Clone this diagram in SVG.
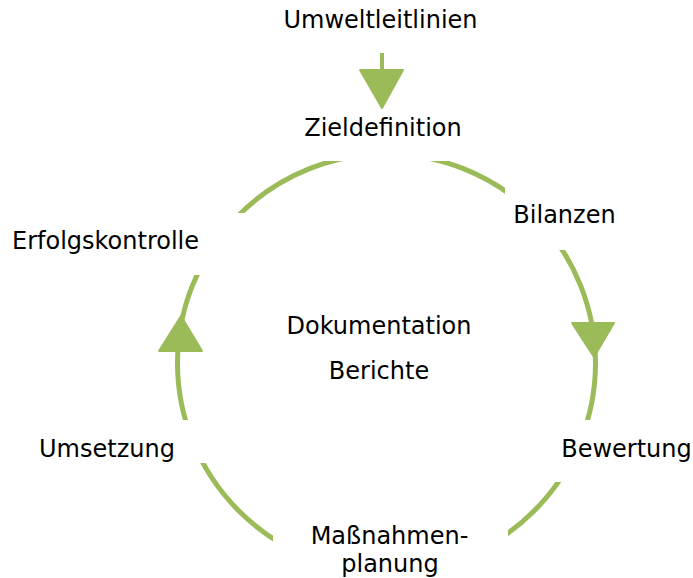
<svg xmlns="http://www.w3.org/2000/svg" width="693" height="578" viewBox="0 0 693 578">
<style>
.ln{fill:none;stroke:#9BBB59;stroke-width:5}
.ah{fill:#9BBB59;stroke:#9BBB59;stroke-width:2;stroke-linejoin:round}
.bx{fill:#FFFFFF;stroke:none}
.t{font-family:"DejaVu Sans",Verdana,sans-serif;font-size:24px;fill:#000000;text-anchor:middle}
</style>
<rect width="693" height="578" fill="#FFFFFF"/>
<g id="connectors">
<circle class="ln" cx="386.5" cy="363" r="209"/>
<line x1="382" y1="53" x2="382" y2="72" stroke="#9BBB59" stroke-width="4"/>
<polygon class="ah" points="360,70 403,70 382,108"/>
<polygon class="ah" points="572,323 614,323 594,357"/>
<polygon class="ah" points="159,351 202,351 181,316"/>
</g>
<g id="umweltleitlinien"><text class="t" x="380.5" y="28">Umweltleitlinien</text></g>
<g id="zieldefinition"><rect class="bx" x="300" y="113" width="170" height="48"/><text class="t" x="383" y="136">Zieldefinition</text></g>
<g id="bilanzen"><rect class="bx" x="505" y="178" width="120" height="72"/><text class="t" x="564.5" y="222.5">Bilanzen</text></g>
<g id="bewertung"><rect class="bx" x="550" y="420" width="143" height="62"/><text class="t" x="626.5" y="457">Bewertung</text></g>
<g id="massnahmenplanung"><rect class="bx" x="273" y="500" width="235" height="78"/><text class="t" x="389.5" y="543.5">Maßnahmen-</text><text class="t" x="390" y="571.5">planung</text></g>
<g id="umsetzung"><rect class="bx" x="30" y="420" width="185" height="43"/><text class="t" x="107" y="457">Umsetzung</text></g>
<g id="erfolgskontrolle"><rect class="bx" x="0" y="213" width="245" height="62"/><text class="t" x="105.5" y="248.5">Erfolgskontrolle</text></g>
<g id="dokumentation"><text class="t" x="379" y="333.5">Dokumentation</text><text class="t" x="379" y="378.5">Berichte</text></g>
</svg>
